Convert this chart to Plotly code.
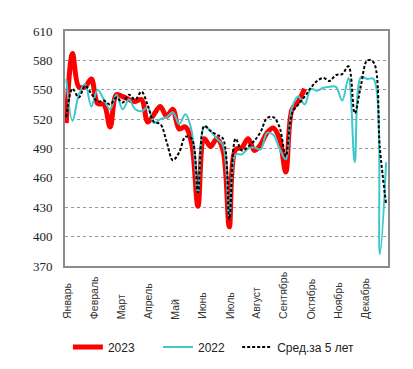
import plotly.graph_objects as go

weeks = list(range(52))
months = ["Январь", "Февраль", "Март", "Апрель", "Май", "Июнь", "Июль",
          "Август", "Сентябрь", "Октябрь", "Ноябрь", "Декабрь"]
month_pos = [m * 52 / 12 for m in range(12)]

y2023 = [516, 587, 553, 553, 561, 536, 535, 512, 545, 543, 540, 538, 540,
         517, 525, 533, 523, 530, 510, 512, 495, 431, 500, 492, 500, 488,
         410, 489, 491, 500, 488, 494, 506, 511, 500, 466, 530, 538, 551]
y2022 = [561, 518, 545, 556, 533, 550, 540, 530, 545, 530, 540, 530, 528,
         532, 516, 520, 522, 527, 515, 525, 508, 445, 512, 508, 500, 493,
         420, 484, 484, 490, 491, 489, 506, 504, 490, 479, 532, 543, 535,
         551, 549, 552, 553, 553, 539, 562, 476, 563, 561, 561, 382, 476]
y_avg = [522, 551, 542, 554, 546, 538, 539, 535, 542, 537, 545, 540, 548,
         534, 517, 515, 497, 478, 486, 502, 500, 445, 513, 508, 504, 500,
         418, 500, 488, 492, 498, 507, 521, 522, 512, 482, 526, 535, 543,
         552, 559, 562, 559, 565, 566, 574, 526, 555, 580, 578, 490, 433]

fig = go.Figure()
fig.add_trace(go.Scatter(x=weeks[:len(y2023)], y=y2023, name="2023", mode="lines", legend="legend",
                         line=dict(color="#ff0000", width=5, shape="spline", smoothing=1)))
fig.add_trace(go.Scatter(x=weeks, y=y2022, name="2022", mode="lines", legend="legend2",
                         line=dict(color="#3cc8cc", width=2, shape="spline", smoothing=1)))
fig.add_trace(go.Scatter(x=weeks, y=y_avg, name="Сред.за 5 лет", mode="lines", legend="legend3",
                         line=dict(color="#000000", width=2, dash="3px,2px", shape="spline", smoothing=1)))

# month labels, rotated and aligned at their bottom end
for pos, name in zip(month_pos, months):
    fig.add_annotation(x=pos, xref="x", y=-0.235, yref="paper", text=name,
                       textangle=-90, showarrow=False, xanchor="center", yanchor="bottom",
                       font=dict(family="Liberation Sans, Arial", size=10.5, color="#333333"))

leg_common = dict(orientation="h", xanchor="left", yref="container", y=0.061, yanchor="middle",
                  font=dict(family="Liberation Sans, Arial", size=12, color="#222222"),
                  itemwidth=30, bgcolor="rgba(0,0,0,0)")

# page body has an 8px default margin, so the figure is 8px smaller
fig.update_layout(
    width=405, height=361,
    margin=dict(l=57, r=25, t=23, b=103),
    paper_bgcolor="white", plot_bgcolor="white",
    showlegend=True,
    legend=dict(x=0.009, **leg_common),
    legend2=dict(x=0.288, **leg_common),
    legend3=dict(x=0.533, **leg_common),
)
fig.update_xaxes(range=[-0.2, 51.3], showticklabels=False,
                 showgrid=False, zeroline=False, showline=True, linecolor="#8c8c8c", linewidth=2,
                 mirror=True, ticks="", automargin=False)
fig.update_yaxes(range=[370, 610], dtick=30, tick0=370, showgrid=True, gridcolor="#9a9a9a",
                 griddash="dot", gridwidth=1, zeroline=False, showline=True, linecolor="#8c8c8c",
                 linewidth=2, mirror=True, ticks="", automargin=False, ticklabelstandoff=8,
                 tickfont=dict(family="Liberation Serif, Times New Roman", size=13, color="#222222"))

fig.write_html("out.html")
